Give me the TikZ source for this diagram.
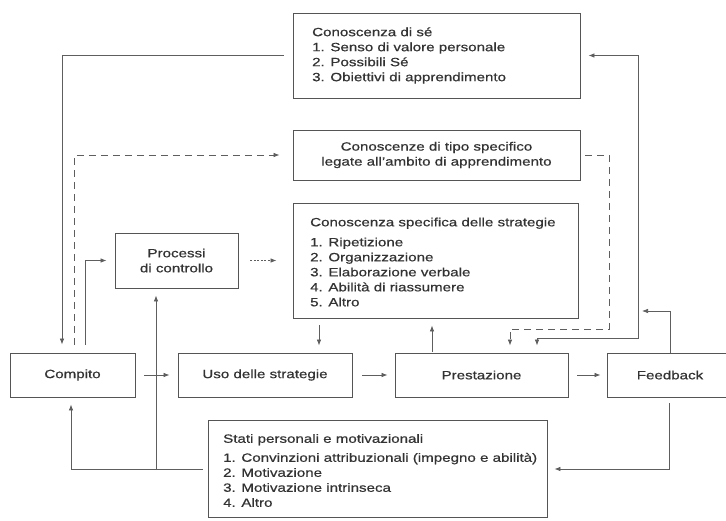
\documentclass[tikz,border=0pt]{standalone}
\usepackage{fontspec}
\setmainfont[FakeStretch=1.26,FakeBold=0.6]{Liberation Sans}
\usetikzlibrary{arrows.meta}
\definecolor{ln}{HTML}{5E5E5E}
\definecolor{bx}{HTML}{555555}
\definecolor{tx}{HTML}{333333}
\begin{document}
\begin{tikzpicture}[x=1pt,y=-1pt,
  box/.style={draw=bx, line width=0.9pt, rectangle, inner sep=0pt, text=tx,
              font=\fontsize{12}{15}\selectfont, align=center},
  txt/.style={inner sep=0pt, text=tx, font=\fontsize{12}{15}\selectfont, align=left, anchor=west},
  conn/.style={draw=ln, line width=0.7pt, -{Latex[length=6pt,width=4.5pt]}},
  both/.style={draw=ln, line width=0.7pt, {Latex[length=6pt,width=4.5pt]}-{Latex[length=6pt,width=4.5pt]}},
  dsh/.style={dash pattern=on 7pt off 5pt},
  dot/.style={dash pattern=on 2pt off 1.5pt}]
\clip (0,0) rectangle (726,520);
\fill[white] (0,0) rectangle (726,520);

% boxes
\node[box, minimum width=287pt, minimum height=85pt] (self) at (436.5,55.5) {};
\node[txt] (selftxt) at (312,55.5) {Conoscenza di sé\\1. Senso di valore personale\\2. Possibili Sé\\3. Obiettivi di apprendimento};
\node[box, minimum width=287pt, minimum height=50pt] (spec) at (436.5,155) {Conoscenze di tipo specifico\\legate all'ambito di apprendimento};
\node[box, minimum width=285pt, minimum height=115pt] (strat) at (435.5,260.5) {};
\node[txt] (strattxt) at (310,262) {Conoscenza specifica delle strategie\\[5pt]1. Ripetizione\\2. Organizzazione\\3. Elaborazione verbale\\4. Abilità di riassumere\\5. Altro};
\node[box, minimum width=123pt, minimum height=55pt] (proc) at (176.5,260.5) {Processi\\di controllo};
\node[box, minimum width=125pt, minimum height=44pt] (compito) at (72.5,375) {Compito};
\node[box, minimum width=174pt, minimum height=44pt] (uso) at (265,375) {Uso delle strategie};
\node[box, minimum width=173pt, minimum height=44pt] (prest) at (481.5,375) {Prestazione};
\node[box, minimum width=126pt, minimum height=44pt] (feed) at (670,375) {Feedback};
\node[box, minimum width=339pt, minimum height=97pt] (stati) at (377.5,468.5) {};
\node[txt] (statitxt) at (223,470.5) {Stati personali e motivazionali\\[4pt]1. Convinzioni attribuzionali (impegno e abilità)\\2. Motivazione\\3. Motivazione intrinseca\\4. Altro};

% coordinates
\coordinate (L1) at (62,55.5);
\coordinate (L2) at (74.5,155);
\coordinate (L3) at (85,260.5);
\coordinate (D1) at (319,0);
\coordinate (U1) at (432,0);
\coordinate (R1) at (609,155);
\coordinate (R2) at (609,329);
\coordinate (R3) at (510,329);
\coordinate (S1) at (638,55.5);
\coordinate (S2) at (638,338);
\coordinate (S3) at (537,338);
\coordinate (F1) at (670,311);
\coordinate (F2) at (642,311);
\coordinate (B1) at (669,469);
\coordinate (B2) at (71,469);
\coordinate (B3) at (156,469);

% connectors
\draw[conn, shorten >=8pt] ([xshift=-9pt]self.west) -- (L1) -- (L1 |- compito.north);
\draw[conn, dsh, shorten <=8pt] (L2 |- compito.north) -- (L2) -- ([xshift=-13pt]spec.west);
\draw[conn, shorten <=8pt, shorten >=8pt] (L3 |- compito.north) -- (L3) -- (proc.west);
\draw[conn, dot, shorten <=12pt, shorten >=16pt] (proc.east) -- (strat.west);
\draw[conn, shorten <=7pt, shorten >=7pt] (D1 |- strat.south) -- (D1 |- uso.north);
\draw[conn, shorten <=1pt, shorten >=7pt] (U1 |- prest.north) -- (U1 |- strat.south);
\draw[conn, dsh, shorten >=7pt] ([xshift=5pt]spec.east) -- (R1) -- (R2) -- (R3) -- (R3 |- prest.north);
\draw[both, shorten <=8pt, shorten >=7pt] (self.east) -- (S1) -- (S2) -- (S3) -- (S3 |- prest.north);
\draw[conn] (F1 |- feed.north) -- (F1) -- (F2);
\draw[conn, shorten <=9pt, shorten >=8pt] (compito.east) -- (uso.west);
\draw[conn, shorten <=10pt, shorten >=7pt] (uso.east) -- (prest.west);
\draw[conn, shorten <=9pt, shorten >=6pt] (prest.east) -- (feed.west);
\draw[conn, shorten <=6pt, shorten >=7pt] (B1 |- feed.south) -- (B1) -- (B1 -| stati.east);
\draw[conn, shorten <=5pt, shorten >=7pt] (stati.west |- B2) -- (B2) -- (B2 |- compito.south);
\draw[conn, shorten >=7pt] (B3) -- (B3 |- proc.south);
\end{tikzpicture}
\end{document}
